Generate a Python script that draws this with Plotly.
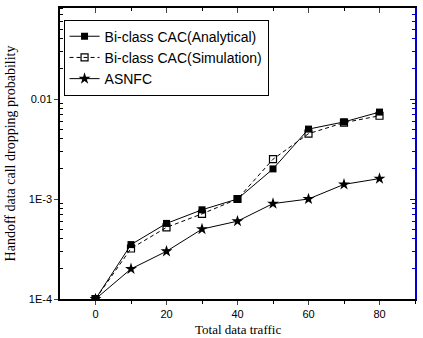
import plotly.graph_objects as go

traffic = [0, 10, 20, 30, 40, 50, 60, 70, 80]
analytical = [1e-4, 3.5e-4, 5.7e-4, 7.8e-4, 1e-3, 2.0e-3, 5.0e-3, 5.9e-3, 7.4e-3]
simulation = [1e-4, 3.2e-4, 5.2e-4, 7.1e-4, 1e-3, 2.5e-3, 4.5e-3, 5.8e-3, 6.8e-3]
asnfc = [1e-4, 2e-4, 3e-4, 5e-4, 6e-4, 9e-4, 1e-3, 1.4e-3, 1.6e-3]

ytickvals = [1e-4, 1e-3, 1e-2]
yticktext = ["1E-4", "1E-3", "0.01"]
yminor = [m * d for d in (1e-4, 1e-3, 1e-2) for m in range(2, 10)]

fig = go.Figure()
fig.add_trace(go.Scatter(x=traffic, y=analytical, name="Bi-class CAC(Analytical)",
                         mode="lines+markers", line=dict(color="black", width=1),
                         marker=dict(symbol="square", size=7, color="black")))
fig.add_trace(go.Scatter(x=traffic, y=simulation, name="Bi-class CAC(Simulation)",
                         mode="lines+markers", line=dict(color="black", width=1, dash="4px,3px"),
                         marker=dict(symbol="square-open", size=7, color="black", line=dict(width=1.2))))
fig.add_trace(go.Scatter(x=traffic, y=asnfc, name="ASNFC",
                         mode="lines+markers", line=dict(color="black", width=1),
                         marker=dict(symbol="star", size=9, color="black")))
fig.add_trace(go.Scatter(x=[traffic[0]], y=[asnfc[0]], xaxis="x2", yaxis="y2",
                         mode="markers", marker=dict(opacity=0), showlegend=False, hoverinfo="skip"))

tickfont = dict(family="Liberation Sans, Arial", size=11, color="black")
serif = "Liberation Serif, Times New Roman"
fig.update_layout(
    width=423, height=338,
    margin=dict(l=60, r=8, t=8, b=39),
    paper_bgcolor="white", plot_bgcolor="white",
    showlegend=True,
    legend=dict(x=0.01, y=0.96, xanchor="left", yanchor="top",
                bordercolor="black", borderwidth=1, bgcolor="white",
                font=dict(family="Liberation Sans, Arial", size=14, color="black"),
                tracegroupgap=0, itemwidth=30),
    xaxis=dict(range=[-10, 90], tickvals=[0, 20, 40, 60, 80], ticks="outside", ticklen=4,
               showline=True, linecolor="black", linewidth=1.5, showgrid=False, zeroline=False,
               tickfont=tickfont, automargin=False,
               minor=dict(tickvals=[10, 30, 50, 70, 90], ticks="outside", ticklen=3, tickcolor="black")),
    yaxis=dict(type="log", range=[-4, -1.09], tickvals=ytickvals, ticktext=yticktext,
               ticks="outside", ticklen=4, showline=True, linecolor="black", linewidth=1.5,
               showgrid=False, zeroline=False, tickfont=tickfont, automargin=False,
               minor=dict(tickvals=yminor, ticks="inside", ticklen=3, tickcolor="black", showgrid=False),
               title=dict(text="Handoff data call dropping probability", font=dict(family=serif, size=14, color="black"), standoff=10)),
    xaxis2=dict(overlaying="x", side="top", matches="x", range=[-10, 90], tickvals=[0, 20, 40, 60, 80],
                ticks="inside", ticklen=5, showticklabels=False, showline=True, linecolor="black",
                linewidth=1.5, showgrid=False, zeroline=False,
                minor=dict(tickvals=[10, 30, 50, 70, 90], ticks="inside", ticklen=3, tickcolor="black")),
    yaxis2=dict(overlaying="y", side="right", type="log", range=[-4, -1.09], tickvals=ytickvals,
                ticks="inside", ticklen=5, tickcolor="#0000cc", showticklabels=False, showline=True,
                linecolor="#0000cc", linewidth=1.5, showgrid=False, zeroline=False,
                minor=dict(tickvals=yminor, ticks="inside", ticklen=3, tickcolor="#0000cc", showgrid=False)),
    annotations=[dict(text="Total data traffic", xref="paper", yref="paper", x=0.5, y=-0.105,
                      xanchor="center", yanchor="middle", showarrow=False,
                      font=dict(family=serif, size=13, color="black"))],
)

fig.write_html("out.html")
